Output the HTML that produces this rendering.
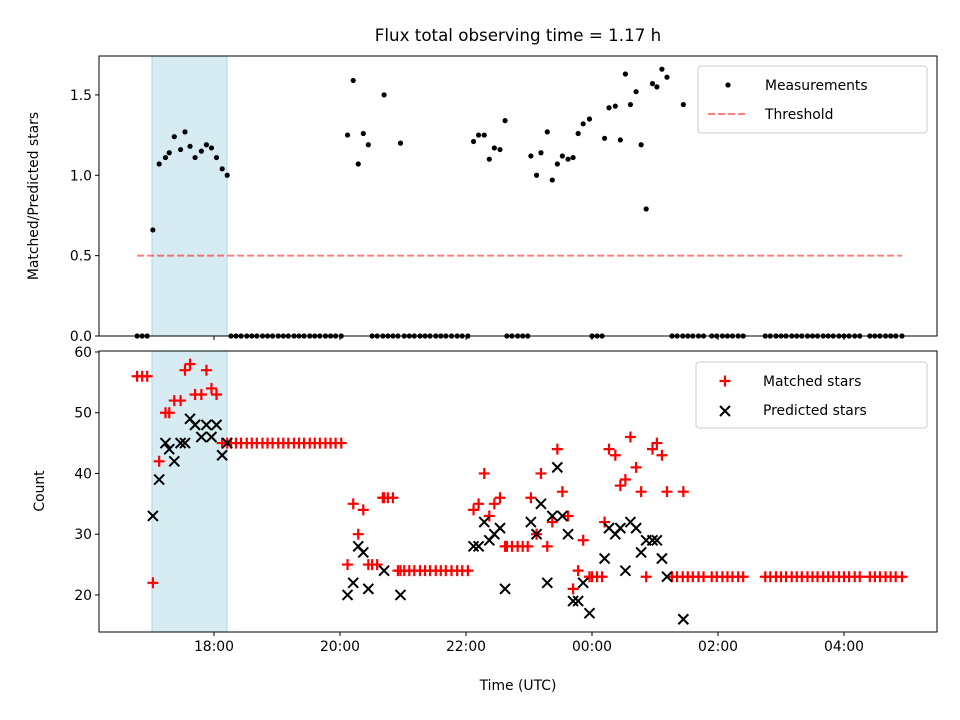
<!DOCTYPE html>
<html><head><meta charset="utf-8">
<style>
html,body{margin:0;padding:0;background:#fff;}
svg{display:block;font-family:"DejaVu Sans","Liberation Sans",sans-serif;}
</style></head>
<body>
<svg id="chart" width="960" height="720" viewBox="0 0 960 720" xmlns="http://www.w3.org/2000/svg"></svg>
<script>
// ---- data (hours UTC, values >24 are after midnight) ----
const tickHours = [18, 20, 22, 24, 26, 28];
const tickLabels = ["18:00", "20:00", "22:00", "00:00", "02:00", "04:00"];
const topTicks = [0.0, 0.5, 1.0, 1.5];
const topTickLabels = ["0.0", "0.5", "1.0", "1.5"];
const botTicks = [20, 30, 40, 50, 60];
const botTickLabels = ["20", "30", "40", "50", "60"];
const spanStart = 17.016, spanEnd = 18.206;
const threshold = 0.5;

const measTimes = [17.03,17.13,17.23,17.29,17.37,17.47,17.54,17.62,17.70,17.80,17.88,17.96,18.04,18.13,18.21,
 20.12,20.21,20.29,20.37,20.45,20.70,20.96,
 22.12,22.20,22.29,22.37,22.45,22.54,22.62,
 23.03,23.12,23.19,23.29,23.37,23.45,23.53,23.62,23.70,23.78,23.86,23.96,
 24.20,24.27,24.37,24.45,24.53,24.61,24.70,24.78,24.86,24.96,25.03,25.11,25.19,25.45];
const measRatio = [0.66,1.07,1.11,1.14,1.24,1.16,1.27,1.18,1.11,1.15,1.19,1.17,1.11,1.04,1.00,
 1.25,1.59,1.07,1.26,1.19,1.50,1.20,
 1.21,1.25,1.25,1.10,1.17,1.16,1.34,
 1.12,1.00,1.14,1.27,0.97,1.07,1.12,1.10,1.11,1.26,1.32,1.35,
 1.23,1.42,1.43,1.22,1.63,1.44,1.52,1.19,0.79,1.57,1.55,1.66,1.61,1.44];
const measMatched = [22,42,50,50,52,52,57,58,53,53,57,54,53,45,45,
 25,35,30,34,25,36,24,
 34,35,40,33,35,36,28,
 36,30,40,28,32,44,37,33,21,24,29,23,
 32,44,43,38,39,46,41,37,23,44,45,43,37,37];
const measPredicted = [33,39,45,44,42,45,45,49,48,46,48,46,48,43,45,
 20,22,28,27,21,24,20,
 28,28,32,29,30,31,21,
 32,30,35,22,33,41,33,30,19,19,22,17,
 26,31,30,31,24,32,31,27,29,29,29,26,23,16];

const zeroTimes = [16.78,16.86,16.94,
 18.27,18.35,18.43,18.52,18.60,18.68,18.77,18.85,18.93,19.02,19.10,19.18,19.27,19.35,19.43,19.52,19.60,19.68,19.77,19.85,19.93,20.02,
 20.51,20.59,20.68,20.76,20.84,20.92,
 21.02,21.10,21.18,21.27,21.35,21.43,21.52,21.60,21.68,21.77,
 21.86,21.94,22.03,
 22.65,22.73,22.82,22.90,22.98,
 24.00,24.08,24.16,
 25.27,25.35,25.44,25.52,25.60,25.69,25.77,
 25.90,25.98,26.07,26.15,26.23,26.32,26.40,
 26.75,26.83,26.92,27.00,27.08,27.17,27.25,27.33,27.42,27.50,27.58,27.67,27.75,27.83,27.92,28.00,28.08,28.17,28.25,
 28.41,28.49,28.57,28.66,28.74,28.82,28.92];
const zeroMatched = [56,56,56,
 45,45,45,45,45,45,45,45,45,45,45,45,45,45,45,45,45,45,45,45,45,45,
 25,25,36,36,36,24,
 24,24,24,24,24,24,24,24,24,24,
 24,24,24,
 28,28,28,28,28,
 23,23,23,
 23,23,23,23,23,23,23,
 23,23,23,23,23,23,23,
 23,23,23,23,23,23,23,23,23,23,23,23,23,23,23,23,23,23,23,
 23,23,23,23,23,23,23];

// ---- layout ----
const L = 99, R = 937;
const T1 = 56, B1 = 336, T2 = 351, B2 = 632;
const xMin = 16.175, xMax = 29.476;
const y1Min = 0, y1Max = 1.742;
const y2Min = 13.9, y2Max = 60.16;
const X = h => L + (h - xMin) / (xMax - xMin) * (R - L);
const Y1 = v => B1 - (v - y1Min) / (y1Max - y1Min) * (B1 - T1);
const Y2 = v => B2 - (v - y2Min) / (y2Max - y2Min) * (B2 - T2);

const svg = document.getElementById('chart');
const NS = 'http://www.w3.org/2000/svg';
function mk(tag, attrs, parent) {
  const e = document.createElementNS(NS, tag);
  for (const k in attrs) e.setAttribute(k, attrs[k]);
  (parent || svg).appendChild(e);
  return e;
}
function txt(s, attrs, parent) { const e = mk('text', attrs, parent); e.textContent = s; return e; }

// title
let t = txt('Flux total observing time = 1.17 h', {x: 518, y: 41, 'text-anchor': 'middle', 'font-size': 16.7, fill: '#000'});



// ---------- TOP PANEL ----------
const g1 = mk('g', {});


let sp = mk('rect', {x: X(spanStart), y: T1, width: X(spanEnd) - X(spanStart), height: B1 - T1, fill: '#add8e6', 'fill-opacity': 0.5, stroke: '#add8e6', 'stroke-width': 1}, g1);


let th = mk('line', {x1: X(zeroTimes[0]), x2: X(zeroTimes[zeroTimes.length - 1]), y1: Y1(threshold), y2: Y1(threshold), stroke: '#ff0000', 'stroke-opacity': 0.5, 'stroke-width': 2, 'stroke-dasharray': '7,3'}, g1);


const meas = mk('g', {fill: '#000'}, g1);


zeroTimes.forEach(h => {
  const c = mk('circle', {cx: X(h), cy: Y1(0), r: 2.6}, meas);
  
  
});
measTimes.forEach((h, i) => {
  const c = mk('circle', {cx: X(h), cy: Y1(measRatio[i]), r: 2.6}, meas);
  
  
});
let f1 = mk('rect', {x: L, y: T1, width: R - L, height: B1 - T1, fill: 'none', stroke: '#000', 'stroke-width': 1}, g1);


topTicks.forEach((v, i) => {
  const y = Y1(v);
  mk('line', {x1: L - 4, x2: L, y1: y, y2: y, stroke: '#000'}, g1);
  const tl = txt(topTickLabels[i], {x: L - 7, y: y + 5, 'text-anchor': 'end', 'font-size': 13.9}, g1);
  
  
});
tickHours.forEach(h => { mk('line', {x1: X(h), x2: X(h), y1: B1, y2: B1 + 4, stroke: '#000'}, g1); });
let yl1 = txt('Matched/Predicted stars', {x: 0, y: 0, 'text-anchor': 'middle', 'font-size': 13.9, transform: 'translate(38,196) rotate(-90)'}, g1);


const lg1 = mk('g', {}, g1);


mk('rect', {x: 698, y: 66, width: 229, height: 67, rx: 3, fill: '#fff', 'fill-opacity': 0.8, stroke: '#ccc'}, lg1);
mk('circle', {cx: 728, cy: 85, r: 2.6, fill: '#000'}, lg1);
let le1 = txt('Measurements', {x: 765, y: 90, 'font-size': 13.9}, lg1);


mk('line', {x1: 708, x2: 748, y1: 114, y2: 114, stroke: '#ff0000', 'stroke-opacity': 0.5, 'stroke-width': 2, 'stroke-dasharray': '7,3'}, lg1);
let le2 = txt('Threshold', {x: 765, y: 119, 'font-size': 13.9}, lg1);



// ---------- BOTTOM PANEL ----------
const g2 = mk('g', {});


let sp2 = mk('rect', {x: X(spanStart), y: T2, width: X(spanEnd) - X(spanStart), height: B2 - T2, fill: '#add8e6', 'fill-opacity': 0.5, stroke: '#add8e6', 'stroke-width': 1}, g2);


function plus(x, y, parent) {
  return mk('path', {d: `M${x-5.5},${y}H${x+5.5}M${x},${y-5.5}V${y+5.5}`, stroke: '#ff0000', 'stroke-width': 2.2, fill: 'none'}, parent);
}
function cross(x, y, parent) {
  return mk('path', {d: `M${x-5},${y-5}L${x+5},${y+5}M${x-5},${y+5}L${x+5},${y-5}`, stroke: '#000', 'stroke-width': 2, fill: 'none'}, parent);
}
const ms = mk('g', {}, g2);


zeroTimes.forEach((h, i) => {
  const p = plus(X(h), Y2(zeroMatched[i]), ms);
  
  
});
measTimes.forEach((h, i) => {
  const p = plus(X(h), Y2(measMatched[i]), ms);
  
  
});
const ps = mk('g', {}, g2);


measTimes.forEach((h, i) => {
  const p = cross(X(h), Y2(measPredicted[i]), ps);
  
  
});
let f2 = mk('rect', {x: L, y: T2, width: R - L, height: B2 - T2, fill: 'none', stroke: '#000', 'stroke-width': 1}, g2);


botTicks.forEach((v, i) => {
  const y = Y2(v);
  mk('line', {x1: L - 4, x2: L, y1: y, y2: y, stroke: '#000'}, g2);
  const tl = txt(botTickLabels[i], {x: L - 7, y: y + 5, 'text-anchor': 'end', 'font-size': 13.9}, g2);
  
  
});
tickHours.forEach((h, i) => {
  mk('line', {x1: X(h), x2: X(h), y1: B2, y2: B2 + 4, stroke: '#000'}, g2);
  const tl = txt(tickLabels[i], {x: X(h), y: B2 + 19, 'text-anchor': 'middle', 'font-size': 13.9}, g2);
  
  
});
let yl2 = txt('Count', {x: 0, y: 0, 'text-anchor': 'middle', 'font-size': 13.9, transform: 'translate(44,491) rotate(-90)'}, g2);


let xl = txt('Time (UTC)', {x: 518, y: 690, 'text-anchor': 'middle', 'font-size': 13.9}, g2);


const lg2 = mk('g', {}, g2);


mk('rect', {x: 696, y: 362, width: 231, height: 66, rx: 3, fill: '#fff', 'fill-opacity': 0.8, stroke: '#ccc'}, lg2);
plus(725, 381, lg2);
let le3 = txt('Matched stars', {x: 763, y: 386, 'font-size': 13.9}, lg2);


cross(725, 411, lg2);
let le4 = txt('Predicted stars', {x: 763, y: 415, 'font-size': 13.9}, lg2);


</script>
</body></html>
